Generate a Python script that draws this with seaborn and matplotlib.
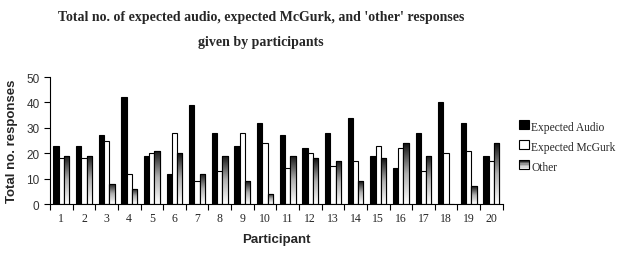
import numpy as np
import pandas as pd
import matplotlib
matplotlib.use("Agg")
import matplotlib.pyplot as plt
import seaborn as sns
from matplotlib.patches import Patch, Rectangle
from matplotlib.legend_handler import HandlerBase

participants = [str(i) for i in range(1, 21)]
expected_audio = [23, 23, 27, 42, 19, 12, 39, 28, 23, 32, 27, 22, 28, 34, 19, 14, 28, 40, 32, 19]
expected_mcgurk = [18, 18, 25, 12, 20, 28, 9, 13, 28, 24, 14, 20, 15, 17, 23, 22, 13, 20, 21, 17]
other = [19, 19, 8, 6, 21, 20, 12, 19, 9, 4, 19, 18, 17, 9, 18, 24, 19, 0, 7, 24]
series_names = ["Expected Audio", "Expected McGurk", "Other"]

df = pd.DataFrame({
    "Participant": participants * 3,
    "Responses": expected_audio + expected_mcgurk + other,
    "Type": [series_names[0]] * 20 + [series_names[1]] * 20 + [series_names[2]] * 20,
})

sns.set_style("white")
plt.rcParams["font.family"] = ["Liberation Serif", "DejaVu Serif"]

fig = plt.figure(figsize=(6.21, 2.55), dpi=100)
ax = fig.add_axes([0.0805, 0.196, 0.729, 0.498])

sns.barplot(data=df, x="Participant", y="Responses", hue="Type",
            hue_order=series_names, order=participants,
            palette=["black", "white", "white"], width=0.7,
            edgecolor="black", linewidth=0.8, saturation=1, ax=ax, legend=False)

grad = np.linspace(1.0, 0.0, 256).reshape(-1, 1)
cmap = matplotlib.colors.LinearSegmentedColormap.from_list("g", ["#ffffff", "#b0b0b0", "#101010"])
for bar in ax.containers[2]:
    x0 = bar.get_x(); w = bar.get_width(); h = bar.get_height()
    if h <= 0:
        continue
    im = ax.imshow(grad[::-1], extent=(x0, x0 + w, 0, h), origin="lower",
                   aspect="auto", cmap=cmap, vmin=0, vmax=1, zorder=bar.get_zorder() + 0.1)
    im.set_clip_path(bar)
    r = Rectangle((x0, 0), w, h, fill=False, edgecolor="black", linewidth=0.8,
                  zorder=bar.get_zorder() + 0.2)
    ax.add_patch(r)

ax.set_xlim(-0.5, 19.5)
ax.set_ylim(0, 50)
ax.set_yticks([0, 10, 20, 30, 40, 50])
ax.set_xticks(range(20))
ax.set_xticklabels(participants)
ax.set_xticks(np.arange(-0.5, 20, 1), minor=True)
ax.tick_params(axis="x", which="major", length=0, labelsize=8.5, pad=6)
ax.tick_params(axis="x", which="minor", length=4, width=0.8, direction="out", color="black", bottom=True)
ax.tick_params(axis="y", length=4, width=0.8, direction="out", color="black", left=True, labelsize=8.5)
for lab in ax.get_yticklabels():
    lab.set_family(["Liberation Sans", "DejaVu Sans"])
    lab.set_color("#333333")
sns.despine(ax=ax)
for s in ["left", "bottom"]:
    ax.spines[s].set_color("black")
    ax.spines[s].set_linewidth(0.8)

ax.set_xlabel("Participant", family=["Liberation Sans", "DejaVu Sans"], fontsize=9.5,
              fontweight="bold", labelpad=6)
ax.set_ylabel("Total no. responses", family=["Liberation Sans", "DejaVu Sans"], fontsize=9.5,
              fontweight="bold", labelpad=6)

fig.text(0.42, 0.93, "Total no. of expected audio, expected McGurk, and 'other' responses",
         ha="center", va="center", fontsize=10, fontweight="bold")
fig.text(0.42, 0.835, "given by participants", ha="center", va="center", fontsize=10, fontweight="bold")


class GradHandler(HandlerBase):
    def create_artists(self, legend, orig_handle, xdescent, ydescent, width, height, fontsize, trans):
        s = height
        x = xdescent + width - s
        arts = []
        n = 6
        for i in range(n):
            c = cmap(1 - (i + 0.5) / n)
            arts.append(Rectangle((x, ydescent + s - (i + 1) * s / n), s, s / n, facecolor=c,
                                  edgecolor="none", transform=trans))
        arts.append(Rectangle((x, ydescent), s, s, fill=False, edgecolor="black", linewidth=0.8,
                              transform=trans))
        return arts


class SquareHandler(HandlerBase):
    def create_artists(self, legend, orig_handle, xdescent, ydescent, width, height, fontsize, trans):
        s = height
        x = xdescent + width - s
        return [Rectangle((x, ydescent), s, s, facecolor=orig_handle.get_facecolor(),
                          edgecolor="black", linewidth=0.8, transform=trans)]


h1 = Patch(facecolor="black", edgecolor="black")
h2 = Patch(facecolor="white", edgecolor="black")
h3 = Patch(facecolor="gray", edgecolor="black")
fig.legend([h1, h2, h3], series_names, loc="upper left", bbox_to_anchor=(0.828, 0.54),
           frameon=False, fontsize=8.3, handlelength=0.85, handleheight=0.85, handletextpad=0.25,
           labelspacing=0.7, borderaxespad=0,
           handler_map={h1: SquareHandler(), h2: SquareHandler(), h3: GradHandler()})

fig.savefig("out.png", dpi=100)
